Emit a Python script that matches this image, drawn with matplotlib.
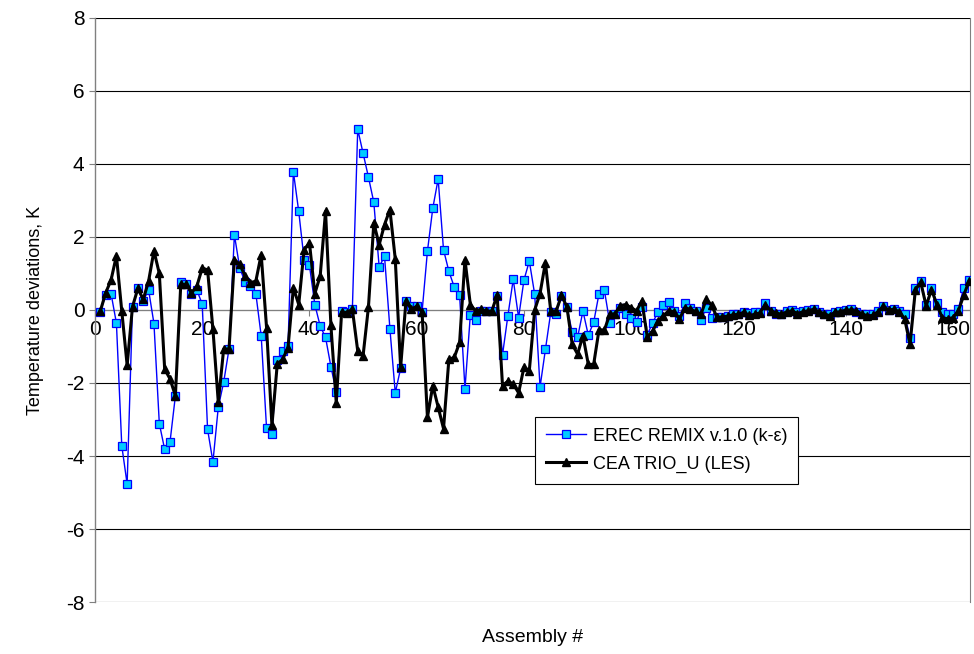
import numpy as np
import matplotlib
matplotlib.use('Agg')
import matplotlib.pyplot as plt

plt.rcParams['font.family'] = ['Liberation Sans', 'DejaVu Sans']
plt.rcParams['axes.unicode_minus'] = False

# Assembly numbers 1..163
assembly = np.arange(1, 164)

# EREC REMIX v.1.0 (k-eps) temperature deviations, K
erec_remix = [
    -0.05, 0.41, 0.45, -0.36, -3.72, -4.77, 0.09, 0.59, 0.25, 0.55,
    -0.37, -3.11, -3.82, -3.61, -2.35, 0.76, 0.70, 0.45, 0.55, 0.16,
    -3.27, -4.16, -2.66, -1.98, -1.07, 2.06, 1.15, 0.76, 0.67, 0.45,
    -0.71, -3.24, -3.39, -1.36, -1.12, -1.00, 3.79, 2.70, 1.38, 1.22,
    0.15, -0.44, -0.75, -1.55, -2.25, -0.03, -0.05, 0.02, 4.95, 4.29,
    3.64, 2.95, 1.18, 1.47, -0.51, -2.27, -1.60, 0.25, 0.10, 0.10,
    -0.05, 1.61, 2.79, 3.59, 1.65, 1.06, 0.63, 0.40, -2.16, -0.14,
    -0.27, -0.02, -0.03, -0.03, 0.38, -1.23, -0.16, 0.84, -0.21, 0.82,
    1.34, 0.43, -2.11, -1.08, -0.06, -0.10, 0.39, 0.09, -0.61, -0.75,
    -0.03, -0.69, -0.34, 0.45, 0.54, -0.35, -0.10, 0.05, -0.10, -0.22,
    -0.32, 0.08, -0.68, -0.35, -0.05, 0.13, 0.23, -0.03, -0.16, 0.18,
    0.06, -0.03, -0.28, 0.06, -0.21, -0.20, -0.18, -0.16, -0.12, -0.10,
    -0.05, -0.08, -0.05, -0.05, 0.18, -0.02, -0.12, -0.10, -0.02, 0.00,
    -0.05, -0.02, 0.00, 0.02, -0.05, -0.12, -0.12, -0.06, -0.02, 0.00,
    0.02, -0.05, -0.10, -0.12, -0.10, -0.02, 0.12, 0.00, 0.02, -0.02,
    -0.12, -0.77, 0.61, 0.79, 0.15, 0.61, 0.20, -0.05, -0.12, -0.12,
    0.02, 0.61, 0.81,
]

# CEA TRIO_U (LES) temperature deviations, K
cea_trio = [
    -0.03, 0.47, 0.82, 1.49, -0.03, -1.51, 0.09, 0.59, 0.29, 0.79,
    1.62, 1.00, -1.62, -1.89, -2.35, 0.70, 0.70, 0.47, 0.65, 1.15,
    1.10, -0.53, -2.53, -1.07, -1.07, 1.38, 1.25, 0.93, 0.75, 0.79,
    1.52, -0.48, -3.16, -1.48, -1.35, -1.03, 0.61, 0.15, 1.65, 1.84,
    0.45, 0.93, 2.70, -0.42, -2.55, -0.05, -0.07, 0.02, -1.12, -1.25,
    0.08, 2.38, 1.79, 2.34, 2.75, 1.40, -1.57, 0.25, 0.02, 0.10,
    -0.05, -2.94, -2.07, -2.66, -3.25, -1.35, -1.30, -0.89, 1.38, 0.15,
    -0.03, 0.02, -0.03, -0.03, 0.41, -2.07, -1.95, -2.03, -2.27, -1.57,
    -1.66, 0.00, 0.45, 1.30, -0.03, -0.03, 0.40, 0.09, -0.94, -1.21,
    -0.70, -1.49, -1.49, -0.54, -0.55, -0.12, -0.10, 0.12, 0.15, 0.06,
    -0.02, 0.25, -0.75, -0.57, -0.30, -0.16, -0.02, -0.05, -0.25, 0.06,
    0.02, -0.04, -0.12, 0.29, 0.13, -0.20, -0.19, -0.17, -0.13, -0.12,
    -0.06, -0.15, -0.12, -0.08, 0.15, -0.02, -0.08, -0.12, -0.05, -0.02,
    -0.10, -0.05, -0.02, 0.02, -0.05, -0.10, -0.16, -0.06, -0.05, 0.00,
    0.00, -0.03, -0.10, -0.16, -0.15, -0.05, 0.10, 0.00, 0.02, -0.05,
    -0.25, -0.94, 0.56, 0.76, 0.11, 0.56, 0.15, -0.21, -0.24, -0.21,
    -0.03, 0.40, 0.79,
]

y_ticks = [-8, -6, -4, -2, 0, 2, 4, 6, 8]
x_ticks = [0, 20, 40, 60, 80, 100, 120, 140, 160]

fig = plt.figure(figsize=(9.74, 6.54), dpi=100)
ax = fig.add_axes([0.0975, 0.0795, 0.8985, 0.893])

for yv in y_ticks:
    ax.axhline(yv, color='black', lw=0.8, zorder=1)

ax.plot(assembly, erec_remix, color='#0000FF', lw=1.0, marker='s',
        markersize=5.5, markerfacecolor='#00CCFF', markeredgecolor='#0000FF',
        markeredgewidth=0.9, label='EREC REMIX v.1.0 (k-\u03b5)', zorder=3)
ax.plot(assembly, cea_trio, color='black', lw=2.2, marker='^',
        markersize=5.5, label='CEA TRIO_U (LES)', zorder=4)

ax.set_xlim(0, 163.2)
ax.set_ylim(-8, 8)
ax.set_xticks(x_ticks)
ax.set_yticks(y_ticks)
ax.set_yticklabels([str(v) for v in y_ticks])

ax.spines['bottom'].set_position(('data', 0))
ax.spines['top'].set_visible(False)
ax.spines['right'].set_color('#808080')
ax.spines['left'].set_color('#808080')
ax.spines['left'].set_linewidth(1.0)
ax.spines['bottom'].set_color('#808080')
ax.tick_params(axis='both', labelsize=15, direction='out', length=4,
               color='#808080')
ax.tick_params(axis='x', pad=3)

ax.set_ylabel('Temperature deviations, K', fontsize=13, labelpad=16)
fig.text(0.5 * (0.0975 + 0.996), 1 - 637 / 654, 'Assembly #', fontsize=14,
         ha='center', va='center')

leg = ax.legend(loc='upper left', bbox_to_anchor=(0.503, 0.317),
                borderaxespad=0, fancybox=False, framealpha=1,
                edgecolor='black', fontsize=13, handlelength=2.2,
                labelspacing=0.6, borderpad=0.6, handletextpad=0.4)
leg.get_frame().set_linewidth(0.8)

fig.savefig('out.png', dpi=100)
